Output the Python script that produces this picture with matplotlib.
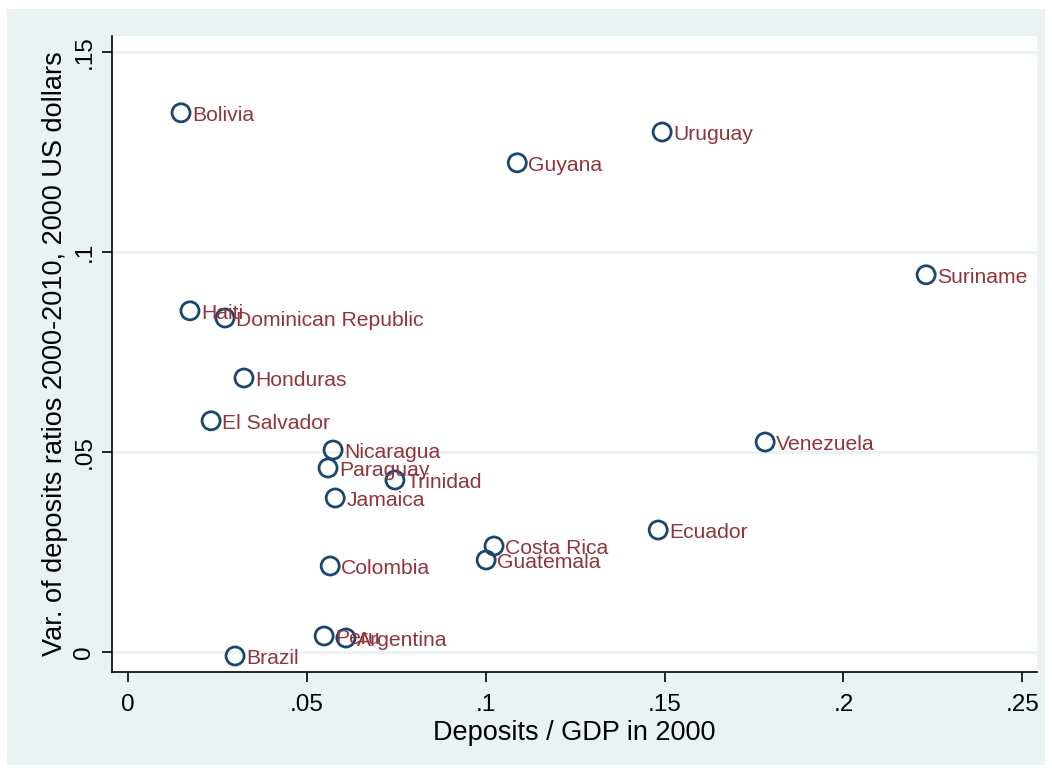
import matplotlib
matplotlib.use("Agg")
import matplotlib.pyplot as plt
from matplotlib.patches import Rectangle

countries = ["Bolivia", "Uruguay", "Guyana", "Suriname", "Haiti", "Dominican Republic",
             "Honduras", "El Salvador", "Nicaragua", "Venezuela", "Paraguay", "Trinidad",
             "Jamaica", "Ecuador", "Costa Rica", "Guatemala", "Colombia", "Peru",
             "Argentina", "Brazil"]
deposits_gdp = [0.0148, 0.1493, 0.1088, 0.2231, 0.0173, 0.0271,
                0.0324, 0.0232, 0.0573, 0.1781, 0.0559, 0.0746,
                0.0579, 0.1482, 0.1023, 0.1001, 0.0565, 0.0548,
                0.0609, 0.0299]
var_ratio = [0.1348, 0.1300, 0.1223, 0.0943, 0.0853, 0.0835,
             0.0685, 0.0578, 0.0505, 0.0525, 0.0460, 0.0430,
             0.0385, 0.0305, 0.0265, 0.0230, 0.0215, 0.0040,
             0.0035, -0.0010]
xticks = [0, 0.05, 0.1, 0.15, 0.2, 0.25]
xticklabels = ["0", ".05", ".1", ".15", ".2", ".25"]
yticks = [0, 0.05, 0.1, 0.15]
yticklabels = ["0", ".05", ".1", ".15"]

plt.rcParams['font.family'] = ['Liberation Sans', 'DejaVu Sans']

W, H = 1052, 771
fig = plt.figure(figsize=(W / 100, H / 100), dpi=100, facecolor='white')
bg = '#EAF2F3'
fig.patches.append(Rectangle((7 / W, 1 - 765 / H), (1045 - 7) / W, (765 - 9) / H,
                             transform=fig.transFigure, facecolor=bg, edgecolor='none', zorder=-10))

ax = fig.add_axes([112 / W, 1 - 672 / H, (1037 - 112) / W, (672 - 36) / H])
ax.set_facecolor('white')
ax.set_xlim(-0.0045, 0.2541)
ax.set_ylim(-0.005, 0.154)

for y in yticks:
    ax.axhline(y, color=bg, lw=2, zorder=1)

ax.scatter(deposits_gdp, var_ratio, s=13 ** 2, facecolors='none', edgecolors='#1A476F',
           linewidths=2, zorder=3)
for c, x, y in zip(countries, deposits_gdp, var_ratio):
    ax.annotate(c, (x, y), xytext=(8, -2), textcoords='offset points',
                ha='left', va='center', color='#90353B', fontsize=15.2, zorder=4)

for s in ['top', 'right']:
    ax.spines[s].set_visible(False)
for s in ['left', 'bottom']:
    ax.spines[s].set_color('black')
    ax.spines[s].set_linewidth(1.2)

ax.set_xticks(xticks)
ax.set_xticklabels(xticklabels, fontsize=17.5)
ax.set_yticks(yticks)
ax.set_yticklabels(yticklabels, fontsize=17.5, rotation=90, va='center')
ax.tick_params(axis='both', direction='out', length=7, width=1.2, color='black', pad=9)
ax.tick_params(axis='y', pad=5)

ax.set_xlabel("Deposits / GDP in 2000", fontsize=19.5, labelpad=3)
ax.set_ylabel("Var. of deposits ratios 2000-2010, 2000 US dollars", fontsize=19.5, labelpad=4)

fig.savefig("out.png", dpi=100, facecolor='white')
